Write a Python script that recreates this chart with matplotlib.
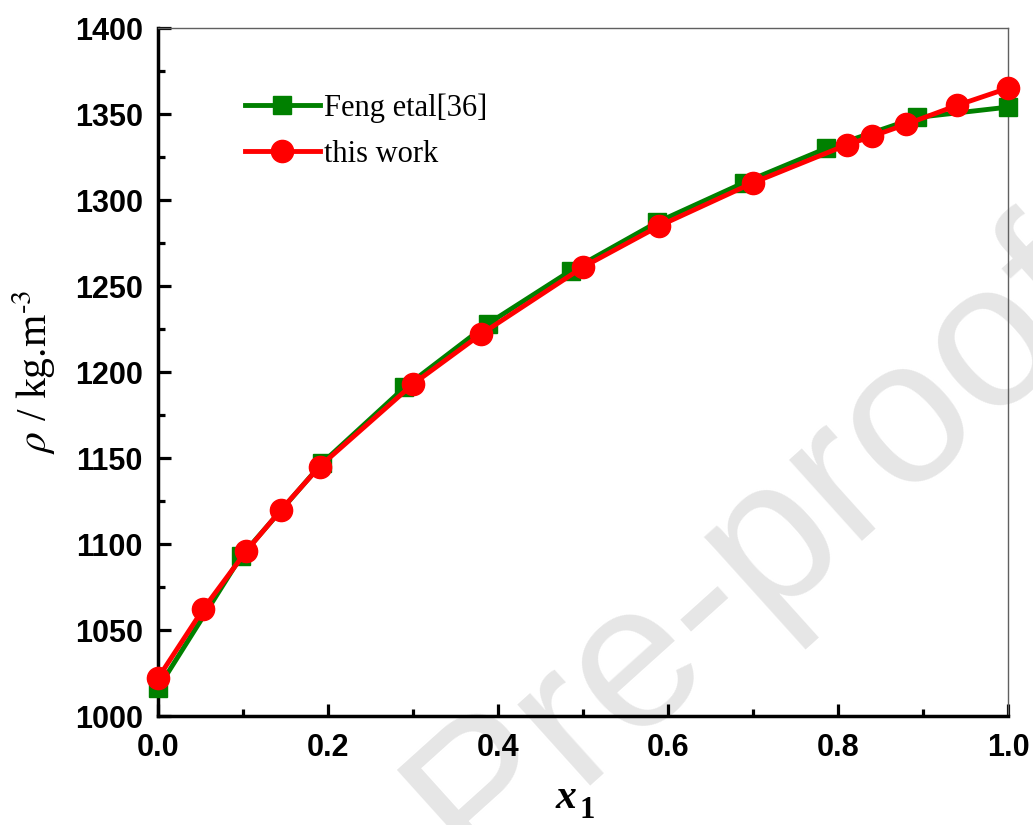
import numpy as np
import matplotlib
matplotlib.use('Agg')
from matplotlib import pyplot as plt
from matplotlib.ticker import MultipleLocator

plt.rcParams['mathtext.fontset'] = 'stix'

# data
x_feng = [0.0, 0.098, 0.193, 0.29, 0.388, 0.486, 0.587, 0.689, 0.786, 0.893, 1.0]
rho_feng = [1016, 1093, 1147, 1191, 1228, 1259, 1287, 1310, 1330, 1348, 1354]

x_work = [0.0, 0.053, 0.104, 0.145, 0.19, 0.30, 0.38, 0.50, 0.59, 0.70,
          0.81, 0.84, 0.88, 0.94, 1.0]
rho_work = [1022, 1062, 1096, 1120, 1145, 1193, 1222, 1261, 1285, 1310,
            1332, 1337, 1344, 1355, 1365]

fig = plt.figure(figsize=(10.33, 8.25), dpi=100)
ax = fig.add_axes([158/1033, 1 - 716/825, 850/1033, 688/825])

# watermark, behind everything
fig.text(0.767, 0.287, 'Pre-proof', fontsize=148, color='#e6e6e6',
         rotation=42, rotation_mode='anchor', ha='center', va='baseline',
         family='Liberation Sans', zorder=-1)
ax.patch.set_alpha(0)

ax.plot(x_feng, rho_feng, '-s', color='#008000', lw=3.5, ms=13,
        label='Feng etal[36]', clip_on=False, zorder=3)
ax.plot(x_work, rho_work, '-o', color='#ff0000', lw=3.5, ms=16,
        label='this work', clip_on=False, zorder=4)

ax.set_xlim(0, 1.0)
ax.set_ylim(1000, 1400)
ax.xaxis.set_minor_locator(MultipleLocator(0.1))
ax.yaxis.set_major_locator(MultipleLocator(50))
ax.yaxis.set_minor_locator(MultipleLocator(25))
ax.set_xticks(np.arange(0, 1.01, 0.2))
ax.set_xticklabels(['%.1f' % v for v in np.arange(0, 1.01, 0.2)])

for s in ['left', 'bottom']:
    ax.spines[s].set_linewidth(2.5)
for s in ['top', 'right']:
    ax.spines[s].set_linewidth(1)
    ax.spines[s].set_color('#606060')

ax.tick_params(which='major', direction='in', length=9, width=2.3,
               top=False, right=False, labelsize=22)
ax.tick_params(which='minor', direction='in', length=5, width=2.3,
               top=False, right=False)
ax.tick_params(axis='y', which='major', pad=11)
ax.tick_params(axis='x', which='major', pad=12)
for lab in ax.get_xticklabels() + ax.get_yticklabels():
    lab.set_fontweight('bold')
    lab.set_family('Liberation Sans')

# x label: bold italic x with subscript 1
fig.text(0.548, 0.01, 'x', fontsize=30, fontweight='bold', style='italic',
         family='Liberation Serif', ha='center', va='bottom')
fig.text(0.568, 0.0, '1', fontsize=22, fontweight='bold',
         family='Liberation Serif', ha='center', va='bottom')

ax.set_ylabel(r'$\rho$ / kg.m$^{\text{-3}}$', fontsize=30,
              family='Liberation Serif', labelpad=12)

ax.legend(loc='upper left', bbox_to_anchor=(0.102, 0.905), frameon=False,
          borderaxespad=0, borderpad=0,
          prop={'family': 'Liberation Serif', 'size': 22},
          handlelength=2.45, handletextpad=0.15, labelspacing=0.55)

fig.savefig('out.png', dpi=100)
